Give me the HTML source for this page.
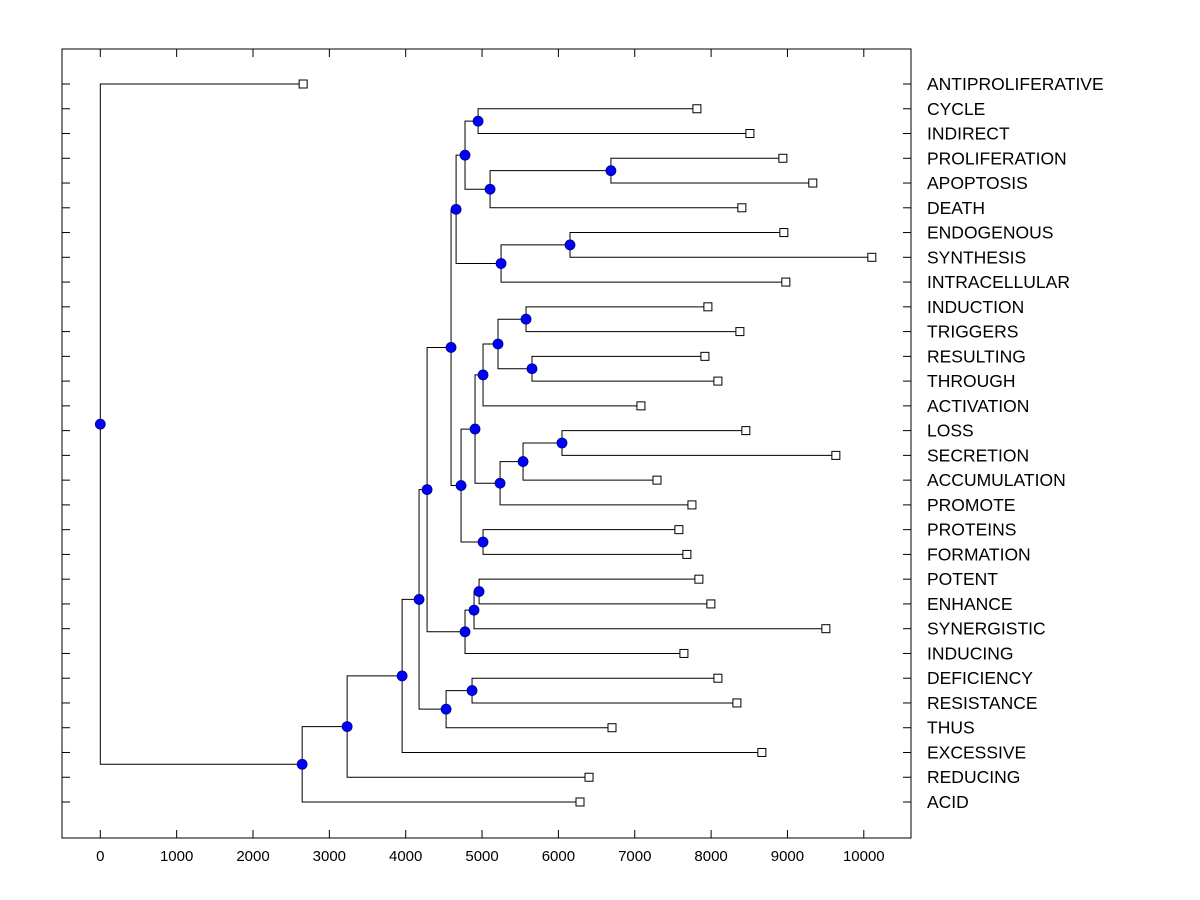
<!DOCTYPE html>
<html><head><meta charset="utf-8"><style>
html,body{margin:0;padding:0;background:#fff;}
svg{display:block;font-family:"Liberation Sans",Arial,sans-serif;}
</style></head><body>
<svg id="chart" width="1200" height="900" viewBox="0 0 1200 900" xmlns="http://www.w3.org/2000/svg"></svg>
<script>
const leafNames = ["ANTIPROLIFERATIVE","CYCLE","INDIRECT","PROLIFERATION","APOPTOSIS","DEATH","ENDOGENOUS","SYNTHESIS","INTRACELLULAR","INDUCTION","TRIGGERS","RESULTING","THROUGH","ACTIVATION","LOSS","SECRETION","ACCUMULATION","PROMOTE","PROTEINS","FORMATION","POTENT","ENHANCE","SYNERGISTIC","INDUCING","DEFICIENCY","RESISTANCE","THUS","EXCESSIVE","REDUCING","ACID"];
const leafValues = [2657,7814,8508,8940,9332,8403,8953,10105,8979,7958,8377,7919,8089,7081,8455,9634,7291,7749,7578,7683,7840,7997,9503,7644,8089,8338,6702,8665,6401,6283];
const nodeNames = ["root","A","B","C","D","F","G","E","I","J","K","H","L","N","P","Q","R","O","S","M","T","V","X","Y","Z","W","AA","BB","U"];
const nodeValues = [0,2644,3233,3953,4175,4529,4869,4280,4777,4895,4961,4594,4660,4777,4948,5105,6688,5249,6152,4725,4908,5013,5209,5576,5654,5236,5537,6047,5013];
const nodeChildren = [
 ["ANTIPROLIFERATIVE","A"],["B","ACID"],["C","REDUCING"],["D","EXCESSIVE"],["E","F"],["G","THUS"],["DEFICIENCY","RESISTANCE"],
 ["H","I"],["J","INDUCING"],["K","SYNERGISTIC"],["POTENT","ENHANCE"],
 ["L","M"],["N","O"],["P","Q"],["CYCLE","INDIRECT"],["R","DEATH"],["PROLIFERATION","APOPTOSIS"],["S","INTRACELLULAR"],["ENDOGENOUS","SYNTHESIS"],
 ["T","U"],["V","W"],["X","ACTIVATION"],["Y","Z"],["INDUCTION","TRIGGERS"],["RESULTING","THROUGH"],["AA","PROMOTE"],["BB","ACCUMULATION"],["LOSS","SECRETION"],["PROTEINS","FORMATION"]
];
const xTicks = [0,1000,2000,3000,4000,5000,6000,7000,8000,9000,10000];

const svg = document.getElementById('chart');
const NS = "http://www.w3.org/2000/svg";
const L=62,R=911,T=49,B=838;
const xs = v => 100.3 + v*0.07635;
const ys = i => 84 + i*(718/29);
function mk(tag, attrs, parent){const e=document.createElementNS(NS,tag);for(const k in attrs)e.setAttribute(k,attrs[k]);(parent||svg).appendChild(e);return e;}

const frame = mk('rect',{x:L,y:T,width:R-L,height:B-T,fill:'none',stroke:'#000','stroke-width':1});



const ticksG = mk('g',{stroke:'#000','stroke-width':1});


leafNames.forEach((n,i)=>{
  const y=ys(i);
  mk('line',{x1:L,y1:y,x2:L+8,y2:y},ticksG);
  mk('line',{x1:R,y1:y,x2:R-8,y2:y},ticksG);
  const t=mk('text',{x:927,y:y+6,'font-size':17.5,fill:'#000'});
  t.textContent=n;
  
  
});
xTicks.forEach(v=>{
  const x=xs(v);
  mk('line',{x1:x,y1:B,x2:x,y2:B-8},ticksG);
  mk('line',{x1:x,y1:T,x2:x,y2:T+8},ticksG);
  const t=mk('text',{x:x,y:861,'font-size':15,'text-anchor':'middle',fill:'#000'});
  t.textContent=v;
  
  
});

const pos = {};
leafNames.forEach((n,i)=>{pos[n]={x:xs(leafValues[i]),y:ys(i),leaf:true};});
function getPos(n){
  if(pos[n])return pos[n];
  const k=nodeNames.indexOf(n);
  const c=nodeChildren[k].map(getPos);
  pos[n]={x:xs(nodeValues[k]),y:(c[0].y+c[1].y)/2,leaf:false};
  return pos[n];
}
nodeNames.forEach(getPos);

const lines = mk('g',{stroke:'#000','stroke-width':1,fill:'none'});


nodeNames.forEach((n,k)=>{
  const p=pos[n];
  const c=nodeChildren[k].map(c=>pos[c]);
  mk('path',{d:`M${c[0].x},${c[0].y}H${p.x}V${c[1].y}H${c[1].x}`},lines);
});
leafNames.forEach(n=>{
  const p=pos[n];
  const r=mk('rect',{x:p.x-4,y:p.y-4,width:8,height:8,fill:'#fff',stroke:'#000','stroke-width':1});
  
  
});
nodeNames.forEach(n=>{
  const p=pos[n];
  const c=mk('circle',{cx:p.x,cy:p.y,r:5,fill:'#0000ff',stroke:'#000080','stroke-width':0.8});
  
  
});
</script>
</body></html>
